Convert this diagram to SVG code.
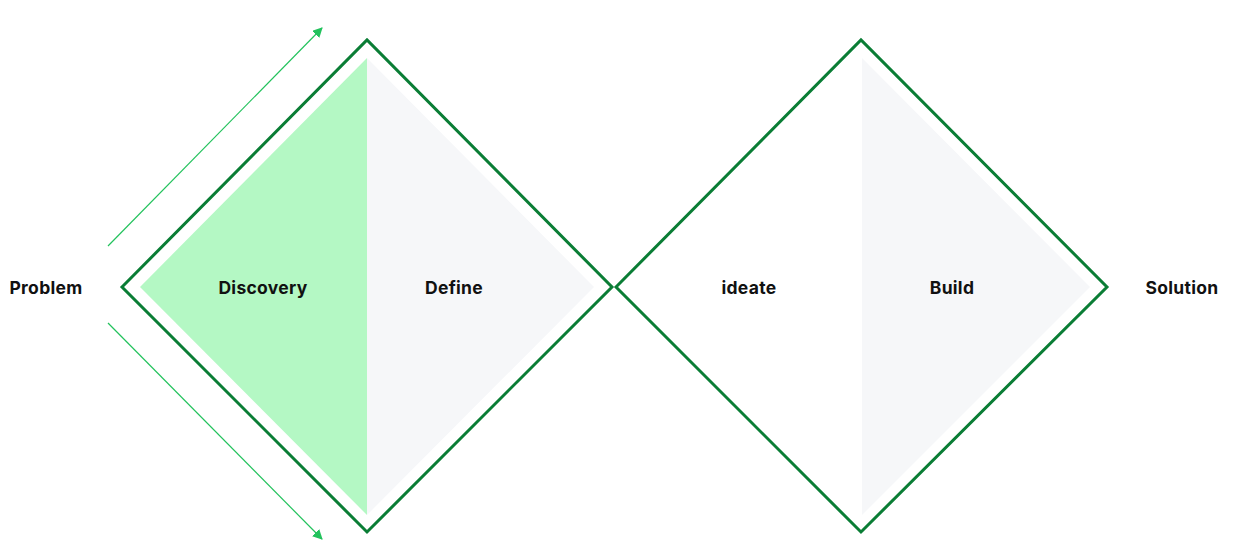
<svg xmlns="http://www.w3.org/2000/svg" width="1235" height="550" viewBox="0 0 1235 550">
<style>
.lbl{font-family:Inter,"Liberation Sans",sans-serif;font-weight:700;font-size:17.5px;letter-spacing:0.3px;fill:#111;text-anchor:middle}
.outline{fill:none;stroke:#0a7d35;stroke-width:3;stroke-linejoin:miter}
.arrow{stroke:#22c25c;stroke-width:1.2;fill:none}
</style>
<defs>
<marker id="ah" viewBox="0 0 10 10" refX="9" refY="5" markerWidth="10" markerHeight="10" markerUnits="userSpaceOnUse" orient="auto">
<path d="M0,0 L10,5 L0,10 z" fill="#22c25c"/>
</marker>
</defs>
<rect width="1235" height="550" fill="#fff"/>
<g id="diamond1">
<polygon points="140,287 367,58 367,515" fill="#b4f8c4"/>
<polygon points="367,58 594,287 367,515" fill="#f6f7f9"/>
<polygon class="outline" points="122,287 367,40 612,287 367,532"/>
</g>
<g id="diamond2">
<polygon points="862,58 1090,287 862,515" fill="#f6f7f9"/>
<polygon class="outline" points="616,287 861,40 1107,287 861,532"/>
</g>
<g id="connectors">
<line class="arrow" x1="108" y1="246" x2="322" y2="28" marker-end="url(#ah)"/>
<line class="arrow" x1="108" y1="323" x2="322" y2="539" marker-end="url(#ah)"/>
</g>
<g id="labels">
<text id="problem" class="lbl" x="46" y="294">Problem</text>
<text id="discovery" class="lbl" x="263" y="294">Discovery</text>
<text id="define" class="lbl" x="454" y="294">Define</text>
<text id="ideate" class="lbl" x="749" y="294">ideate</text>
<text id="build" class="lbl" x="952" y="294">Build</text>
<text id="solution" class="lbl" x="1182" y="294">Solution</text>
</g>
</svg>
